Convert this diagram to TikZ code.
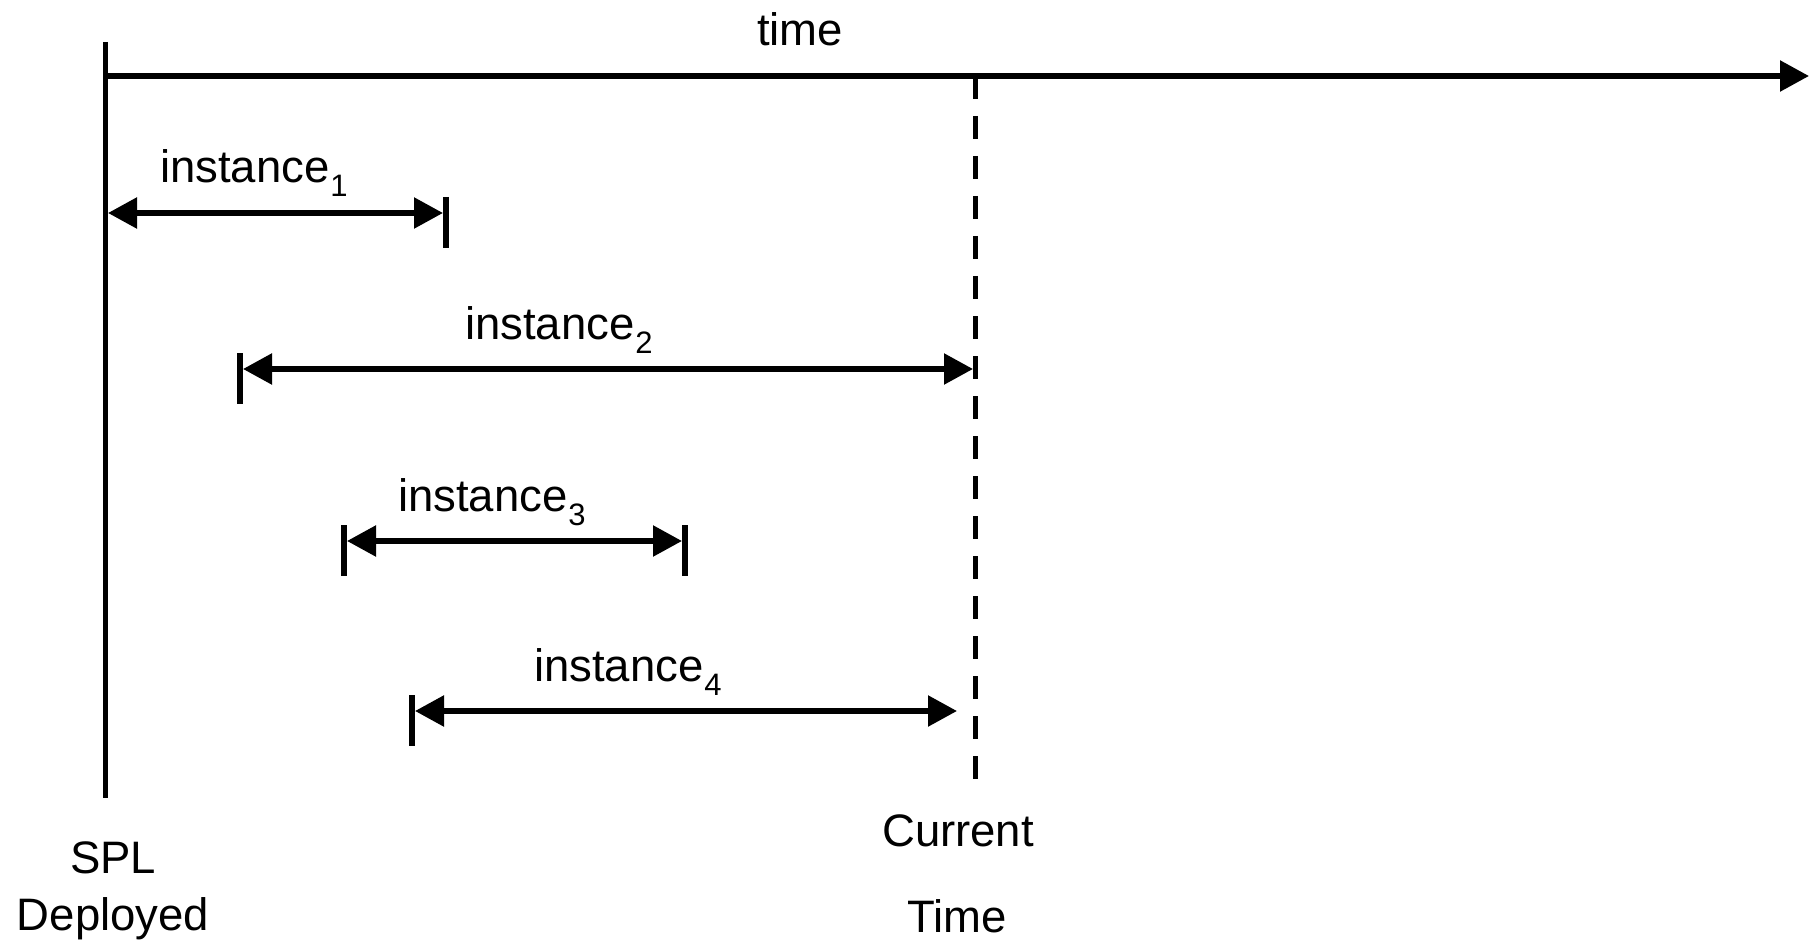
\documentclass[tikz,border=0pt]{standalone}
\usepackage{fontspec}
\setmainfont{Liberation Sans}
\usetikzlibrary{arrows.meta}
\newcommand\isub[1]{\kern1pt\raisebox{-14pt}{\fontsize{31}{31}\selectfont #1}}
\begin{document}
\begin{tikzpicture}[x=1pt,y=-1pt,
  every node/.style={inner sep=0pt,outer sep=0pt,font=\fontsize{45.5}{50}\selectfont},
  heavy/.style={line width=5.5pt},
  span/.style={heavy,{Triangle[length=29pt,width=30pt]}-{Triangle[length=29pt,width=30pt]}},
  tickbar/.style={heavy},
  lbl/.style={anchor=base west},
  captxt/.style={anchor=base}]
\useasboundingbox (0,0) rectangle (1820,941);
% main axes
\coordinate (vtop) at (105.5,42);
\coordinate (vbot) at (105.5,798);
\coordinate (tstart) at (103,76);
\coordinate (tend) at (1809,76);
\coordinate (dtop) at (975,78);
\coordinate (dbot) at (975,783);
\draw[heavy] (vtop) -- (vbot);
\draw[heavy,-{Triangle[length=29pt,width=30pt]}] (tstart) -- (tend);
\draw[line width=5pt,dash pattern=on 21pt off 17pt on 23pt off 17pt on 23pt off 17pt on 23pt off 17pt on 23pt off 17pt on 23pt off 17pt on 23pt off 17pt on 23pt off 17pt on 23pt off 17pt on 23pt off 17pt on 23pt off 17pt on 23pt off 17pt on 23pt off 17pt on 23pt off 17pt on 23pt off 17pt on 23pt off 17pt on 23pt off 17pt on 23pt off 17pt] (dtop) -- (dbot);
\node[captxt] (time) at (800,46) {time};
% instance 1
\coordinate (a1) at (108,213);
\coordinate (t1b) at (446,213);
\coordinate (b1) at (443,213);
\draw[span] (a1) -- (b1);
\draw[tickbar] ([yshift=16pt]t1b) -- ([yshift=-35pt]t1b);
\node[lbl] (l1) at (160,183) {instance\isub{1}};
% instance 2
\coordinate (t2a) at (240,369);
\coordinate (a2) at (243,369);
\coordinate (b2) at (973,369);
\draw[span] (a2) -- (b2);
\draw[tickbar] ([yshift=16pt]t2a) -- ([yshift=-35pt]t2a);
\node[lbl] (l2) at (465,339) {instance\isub{2}};
% instance 3
\coordinate (t3a) at (344,541);
\coordinate (t3b) at (685,541);
\coordinate (a3) at (347,541);
\coordinate (b3) at (682,541);
\draw[span] (a3) -- (b3);
\draw[tickbar] ([yshift=16pt]t3a) -- ([yshift=-35pt]t3a);
\draw[tickbar] ([yshift=16pt]t3b) -- ([yshift=-35pt]t3b);
\node[lbl] (l3) at (398,511) {instance\isub{3}};
% instance 4
\coordinate (t4a) at (412,711);
\coordinate (a4) at (415,711);
\coordinate (b4) at (957,711);
\draw[span] (a4) -- (b4);
\draw[tickbar] ([yshift=16pt]t4a) -- ([yshift=-35pt]t4a);
\node[lbl] (l4) at (534,681) {instance\isub{4}};
% bottom captions
\node[captxt] (spl) at (113,873) {SPL};
\node[captxt] (dep) at (113,930) {Deployed};
\node[captxt] (cur) at (958,846) {Current};
\node[captxt] (ctime) at (957,932) {Time};
\end{tikzpicture}
\end{document}
